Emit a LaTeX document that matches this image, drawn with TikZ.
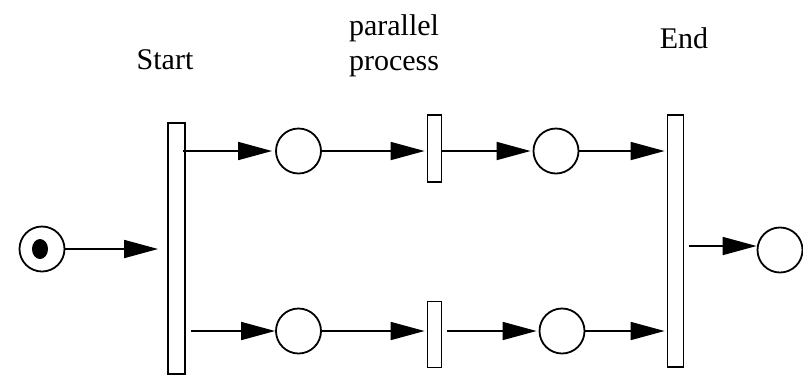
\documentclass[tikz,border=0pt]{standalone}
\usepackage{fontspec}
\setmainfont{Liberation Serif}
\usetikzlibrary{arrows.meta}
\begin{document}
\begin{tikzpicture}[x=1pt,y=-1pt,
  place/.style={draw,circle,line width=1.8pt,minimum size=45pt,inner sep=0pt},
  bar/.style={draw,rectangle,line width=1.8pt,inner sep=0pt},
  arc/.style={line width=1.7pt,-{Triangle[length=34pt,width=18pt]}},
  lbl/.style={font=\fontsize{30}{35}\selectfont,anchor=base,inner sep=0pt}]
\useasboundingbox (0,0) rectangle (803,376);

% places
\node[place] (p0) at (42,249) {};
\node[place] (p1) at (298.5,151) {};
\node[place] (p2) at (556,151) {};
\node[place] (p3) at (298.5,331) {};
\node[place] (p4) at (562,331) {};
\node[place] (p5) at (780,250) {};

% initial token
\fill (40,249) ellipse [x radius=8, y radius=10];

% transitions
\node[bar,minimum width=17pt,minimum height=251pt] (tstart) at (176.5,248.5) {};
\node[bar,minimum width=14pt,minimum height=67pt] (ta) at (434.5,148.5) {};
\node[bar,minimum width=14pt,minimum height=66pt] (tb) at (434.5,334.5) {};
\node[bar,minimum width=16pt,minimum height=252pt] (tend) at (675.5,241) {};

% labels
\node[lbl] (lstart) at (165,69) {Start};
\node[lbl] (lpar) at (394,35) {parallel};
\node[lbl] (lproc) at (394,70) {process};
\node[lbl] (lend) at (684,48) {End};

% arcs
\draw[arc,shorten >=9pt] (p0.east) -- (tstart.west |- p0.east);
\draw[arc,shorten >=3pt] ([xshift=-3pt]tstart.east |- p1.west) -- (p1.west);
\draw[arc,shorten >=2pt] (p1.east) -- (ta.west |- p1.east);
\draw[arc,shorten >=2pt] (ta.east |- p2.west) -- (p2.west);
\draw[arc,shorten >=2pt] (p2.east) -- (tend.west |- p2.east);
\draw[arc,shorten <=5pt] (tstart.east |- p3.west) -- (p3.west);
\draw[arc,shorten >=2pt] (p3.east) -- (tb.west |- p3.east);
\draw[arc,shorten <=5pt,shorten >=2pt] (tb.east |- p4.west) -- (p4.west);
\draw[arc,shorten >=2pt] (p4.east) -- (tend.west |- p4.east);
\draw[arc,shorten <=5pt] ([yshift=4pt]tend.east |- p5.west) -- ([yshift=4pt]p5.west);
\end{tikzpicture}
\end{document}
